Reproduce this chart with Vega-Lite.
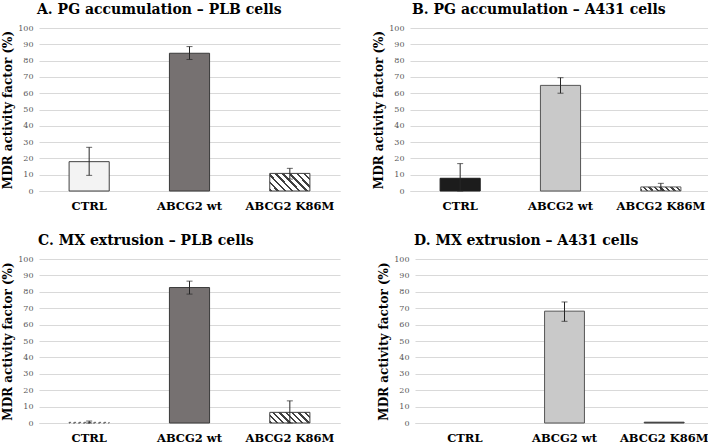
{
  "$schema": "https://vega.github.io/schema/vega-lite/v6.json",
  "padding": {"left": 1, "top": 3, "right": 0, "bottom": 0},
  "background": "white",
  "datasets": {
    "bars": [
      {"panel": "A", "group": "CTRL", "value": 18, "lo": 9.6, "hi": 26.8},
      {"panel": "A", "group": "ABCG2 wt", "value": 84.5, "lo": 80.7, "hi": 88.6},
      {"panel": "A", "group": "ABCG2 K86M", "value": 10.8, "lo": 7.3, "hi": 13.9},
      {"panel": "B", "group": "CTRL", "value": 7.8, "lo": 0, "hi": 16.8},
      {"panel": "B", "group": "ABCG2 wt", "value": 64.8, "lo": 60, "hi": 69.5},
      {"panel": "B", "group": "ABCG2 K86M", "value": 2.5, "lo": 0.4, "hi": 4.7},
      {"panel": "C", "group": "CTRL", "value": 0.4, "lo": 0, "hi": 1.2},
      {"panel": "C", "group": "ABCG2 wt", "value": 82.6, "lo": 78.6, "hi": 86.5},
      {"panel": "C", "group": "ABCG2 K86M", "value": 6.5, "lo": 0, "hi": 13.5},
      {"panel": "D", "group": "CTRL", "value": 0, "lo": null, "hi": null},
      {"panel": "D", "group": "ABCG2 wt", "value": 68.2, "lo": 62, "hi": 73.8},
      {"panel": "D", "group": "ABCG2 K86M", "value": 0.5, "lo": null, "hi": null}
    ]
  },
  "vconcat": [
    {
      "hconcat": [
        {
          "title": {"text": "A. PG accumulation – PLB cells", "dx": -2},
          "width": 301, "height": 163,
          "data": {"name": "bars"},
          "transform": [{"filter": "datum.panel === 'A'"}],
          "encoding": {
            "x": {"field": "group", "type": "nominal", "title": null,
              "scale": {"domain": ["CTRL", "ABCG2 wt", "ABCG2 K86M"], "paddingInner": 0.6, "paddingOuter": 0.3}}
          },
          "layer": [
            {"transform": [{"filter": "datum.group === 'CTRL'"}],
             "mark": {"type": "bar", "fill": "#f3f3f3", "stroke": "#404040", "strokeWidth": 1},
             "encoding": {"y": {"field": "value", "type": "quantitative", "title": "MDR activity factor (%)", "scale": {"domain": [0, 100], "nice": false}}}},
            {"transform": [{"filter": "datum.group === 'ABCG2 wt'"}],
             "mark": {"type": "bar", "fill": "#767171", "stroke": "#3a3a3a", "strokeWidth": 1},
             "encoding": {"y": {"field": "value", "type": "quantitative", "title": "MDR activity factor (%)"}}},
            {"transform": [{"filter": "datum.group === 'ABCG2 K86M'"}],
             "mark": {"type": "bar", "stroke": "#404040", "strokeWidth": 1,
               "fill": {"gradient": "linear", "x1": 0, "y1": 1, "x2": 1.207, "y2": 0.487,
                 "stops": [
                   {"offset": 0, "color": "#404040"}, {"offset": 0.044, "color": "#404040"}, {"offset": 0.044, "color": "#ffffff"}, {"offset": 0.125, "color": "#ffffff"},
                   {"offset": 0.125, "color": "#404040"}, {"offset": 0.169, "color": "#404040"}, {"offset": 0.169, "color": "#ffffff"}, {"offset": 0.25, "color": "#ffffff"},
                   {"offset": 0.25, "color": "#404040"}, {"offset": 0.294, "color": "#404040"}, {"offset": 0.294, "color": "#ffffff"}, {"offset": 0.375, "color": "#ffffff"},
                   {"offset": 0.375, "color": "#404040"}, {"offset": 0.419, "color": "#404040"}, {"offset": 0.419, "color": "#ffffff"}, {"offset": 0.5, "color": "#ffffff"},
                   {"offset": 0.5, "color": "#404040"}, {"offset": 0.544, "color": "#404040"}, {"offset": 0.544, "color": "#ffffff"}, {"offset": 0.625, "color": "#ffffff"},
                   {"offset": 0.625, "color": "#404040"}, {"offset": 0.669, "color": "#404040"}, {"offset": 0.669, "color": "#ffffff"}, {"offset": 0.75, "color": "#ffffff"},
                   {"offset": 0.75, "color": "#404040"}, {"offset": 0.794, "color": "#404040"}, {"offset": 0.794, "color": "#ffffff"}, {"offset": 0.875, "color": "#ffffff"},
                   {"offset": 0.875, "color": "#404040"}, {"offset": 0.919, "color": "#404040"}, {"offset": 0.919, "color": "#ffffff"}, {"offset": 1, "color": "#ffffff"}
                 ]}},
             "encoding": {"y": {"field": "value", "type": "quantitative", "title": "MDR activity factor (%)"}}},
            {"mark": {"type": "rule", "color": "#262626", "strokeWidth": 1},
             "encoding": {"y": {"field": "lo", "type": "quantitative", "title": "MDR activity factor (%)"}, "y2": {"field": "hi"}}},
            {"mark": {"type": "tick", "color": "#262626", "size": 6, "thickness": 1},
             "encoding": {"y": {"field": "lo", "type": "quantitative", "title": "MDR activity factor (%)"}}},
            {"mark": {"type": "tick", "color": "#262626", "size": 6, "thickness": 1},
             "encoding": {"y": {"field": "hi", "type": "quantitative", "title": "MDR activity factor (%)"}}}
          ]
        },
        {
          "title": {"text": "B.  PG accumulation – A431 cells", "dx": 2},
          "width": 301, "height": 163,
          "data": {"name": "bars"},
          "transform": [{"filter": "datum.panel === 'B'"}],
          "encoding": {
            "x": {"field": "group", "type": "nominal", "title": null,
              "scale": {"domain": ["CTRL", "ABCG2 wt", "ABCG2 K86M"], "paddingInner": 0.6, "paddingOuter": 0.3}}
          },
          "layer": [
            {"transform": [{"filter": "datum.group === 'CTRL'"}],
             "mark": {"type": "bar", "fill": "#1c1c1c", "stroke": "#1c1c1c", "strokeWidth": 1},
             "encoding": {"y": {"field": "value", "type": "quantitative", "title": "MDR activity factor (%)", "scale": {"domain": [0, 100], "nice": false}}}},
            {"transform": [{"filter": "datum.group === 'ABCG2 wt'"}],
             "mark": {"type": "bar", "fill": "#c9c9c9", "stroke": "#555555", "strokeWidth": 1},
             "encoding": {"y": {"field": "value", "type": "quantitative", "title": "MDR activity factor (%)"}}},
            {"transform": [{"filter": "datum.group === 'ABCG2 K86M'"}],
             "mark": {"type": "bar", "stroke": "#595959", "strokeWidth": 1,
               "fill": {"gradient": "linear", "x1": 0, "y1": 1, "x2": 1.087, "y2": 0.894,
                 "stops": [
                   {"offset": 0, "color": "#404040"}, {"offset": 0.05, "color": "#404040"}, {"offset": 0.05, "color": "#ffffff"}, {"offset": 0.125, "color": "#ffffff"},
                   {"offset": 0.125, "color": "#404040"}, {"offset": 0.175, "color": "#404040"}, {"offset": 0.175, "color": "#ffffff"}, {"offset": 0.25, "color": "#ffffff"},
                   {"offset": 0.25, "color": "#404040"}, {"offset": 0.3, "color": "#404040"}, {"offset": 0.3, "color": "#ffffff"}, {"offset": 0.375, "color": "#ffffff"},
                   {"offset": 0.375, "color": "#404040"}, {"offset": 0.425, "color": "#404040"}, {"offset": 0.425, "color": "#ffffff"}, {"offset": 0.5, "color": "#ffffff"},
                   {"offset": 0.5, "color": "#404040"}, {"offset": 0.55, "color": "#404040"}, {"offset": 0.55, "color": "#ffffff"}, {"offset": 0.625, "color": "#ffffff"},
                   {"offset": 0.625, "color": "#404040"}, {"offset": 0.675, "color": "#404040"}, {"offset": 0.675, "color": "#ffffff"}, {"offset": 0.75, "color": "#ffffff"},
                   {"offset": 0.75, "color": "#404040"}, {"offset": 0.8, "color": "#404040"}, {"offset": 0.8, "color": "#ffffff"}, {"offset": 0.875, "color": "#ffffff"},
                   {"offset": 0.875, "color": "#404040"}, {"offset": 0.925, "color": "#404040"}, {"offset": 0.925, "color": "#ffffff"}, {"offset": 1, "color": "#ffffff"}
                 ]}},
             "encoding": {"y": {"field": "value", "type": "quantitative", "title": "MDR activity factor (%)"}}},
            {"mark": {"type": "rule", "color": "#262626", "strokeWidth": 1},
             "encoding": {"y": {"field": "lo", "type": "quantitative", "title": "MDR activity factor (%)"}, "y2": {"field": "hi"}}},
            {"mark": {"type": "tick", "color": "#262626", "size": 6, "thickness": 1},
             "encoding": {"y": {"field": "lo", "type": "quantitative", "title": "MDR activity factor (%)"}}},
            {"mark": {"type": "tick", "color": "#262626", "size": 6, "thickness": 1},
             "encoding": {"y": {"field": "hi", "type": "quantitative", "title": "MDR activity factor (%)"}}}
          ]
        }
      ],
      "spacing": 32
    },
    {
      "hconcat": [
        {
          "title": {"text": "C.  MX extrusion – PLB cells", "dx": -1},
          "width": 301, "height": 164,
          "data": {"name": "bars"},
          "transform": [{"filter": "datum.panel === 'C'"}],
          "encoding": {
            "x": {"field": "group", "type": "nominal", "title": null,
              "scale": {"domain": ["CTRL", "ABCG2 wt", "ABCG2 K86M"], "paddingInner": 0.6, "paddingOuter": 0.3}}
          },
          "layer": [
            {"transform": [{"filter": "datum.group === 'CTRL'"}],
             "mark": {"type": "bar", "fill": "#ffffff", "stroke": "#595959", "strokeWidth": 1, "strokeDash": [2, 3]},
             "encoding": {"y": {"field": "value", "type": "quantitative", "title": "MDR activity factor (%)", "scale": {"domain": [0, 100], "nice": false}}}},
            {"transform": [{"filter": "datum.group === 'ABCG2 wt'"}],
             "mark": {"type": "bar", "fill": "#767171", "stroke": "#3a3a3a", "strokeWidth": 1},
             "encoding": {"y": {"field": "value", "type": "quantitative", "title": "MDR activity factor (%)"}}},
            {"transform": [{"filter": "datum.group === 'ABCG2 K86M'"}],
             "mark": {"type": "bar", "stroke": "#404040", "strokeWidth": 1,
               "fill": {"gradient": "linear", "x1": 0, "y1": 1, "x2": 1.183, "y2": 0.683,
                 "stops": [
                   {"offset": 0, "color": "#404040"}, {"offset": 0.047, "color": "#404040"}, {"offset": 0.047, "color": "#ffffff"}, {"offset": 0.125, "color": "#ffffff"},
                   {"offset": 0.125, "color": "#404040"}, {"offset": 0.172, "color": "#404040"}, {"offset": 0.172, "color": "#ffffff"}, {"offset": 0.25, "color": "#ffffff"},
                   {"offset": 0.25, "color": "#404040"}, {"offset": 0.297, "color": "#404040"}, {"offset": 0.297, "color": "#ffffff"}, {"offset": 0.375, "color": "#ffffff"},
                   {"offset": 0.375, "color": "#404040"}, {"offset": 0.422, "color": "#404040"}, {"offset": 0.422, "color": "#ffffff"}, {"offset": 0.5, "color": "#ffffff"},
                   {"offset": 0.5, "color": "#404040"}, {"offset": 0.547, "color": "#404040"}, {"offset": 0.547, "color": "#ffffff"}, {"offset": 0.625, "color": "#ffffff"},
                   {"offset": 0.625, "color": "#404040"}, {"offset": 0.672, "color": "#404040"}, {"offset": 0.672, "color": "#ffffff"}, {"offset": 0.75, "color": "#ffffff"},
                   {"offset": 0.75, "color": "#404040"}, {"offset": 0.797, "color": "#404040"}, {"offset": 0.797, "color": "#ffffff"}, {"offset": 0.875, "color": "#ffffff"},
                   {"offset": 0.875, "color": "#404040"}, {"offset": 0.922, "color": "#404040"}, {"offset": 0.922, "color": "#ffffff"}, {"offset": 1, "color": "#ffffff"}
                 ]}},
             "encoding": {"y": {"field": "value", "type": "quantitative", "title": "MDR activity factor (%)"}}},
            {"mark": {"type": "rule", "color": "#262626", "strokeWidth": 1},
             "encoding": {"y": {"field": "lo", "type": "quantitative", "title": "MDR activity factor (%)"}, "y2": {"field": "hi"}}},
            {"mark": {"type": "tick", "color": "#262626", "size": 6, "thickness": 1},
             "encoding": {"y": {"field": "lo", "type": "quantitative", "title": "MDR activity factor (%)"}}},
            {"mark": {"type": "tick", "color": "#262626", "size": 6, "thickness": 1},
             "encoding": {"y": {"field": "hi", "type": "quantitative", "title": "MDR activity factor (%)"}}}
          ]
        },
        {
          "title": {"text": "D. MX extrusion – A431 cells", "dx": -1},
          "width": 299, "height": 164,
          "data": {"name": "bars"},
          "transform": [{"filter": "datum.panel === 'D'"}],
          "encoding": {
            "x": {"field": "group", "type": "nominal", "title": null,
              "scale": {"domain": ["CTRL", "ABCG2 wt", "ABCG2 K86M"], "paddingInner": 0.6, "paddingOuter": 0.3}}
          },
          "layer": [
            {"transform": [{"filter": "datum.group === 'ABCG2 wt'"}],
             "mark": {"type": "bar", "fill": "#c9c9c9", "stroke": "#555555", "strokeWidth": 1},
             "encoding": {"y": {"field": "value", "type": "quantitative", "title": "MDR activity factor (%)", "scale": {"domain": [0, 100], "nice": false}}}},
            {"transform": [{"filter": "datum.group === 'ABCG2 K86M'"}],
             "mark": {"type": "bar", "fill": "#404040", "stroke": "#404040", "strokeWidth": 1},
             "encoding": {"y": {"field": "value", "type": "quantitative", "title": "MDR activity factor (%)"}}},
            {"mark": {"type": "rule", "color": "#262626", "strokeWidth": 1},
             "encoding": {"y": {"field": "lo", "type": "quantitative", "title": "MDR activity factor (%)"}, "y2": {"field": "hi"}}},
            {"mark": {"type": "tick", "color": "#262626", "size": 6, "thickness": 1},
             "encoding": {"y": {"field": "lo", "type": "quantitative", "title": "MDR activity factor (%)"}}},
            {"mark": {"type": "tick", "color": "#262626", "size": 6, "thickness": 1},
             "encoding": {"y": {"field": "hi", "type": "quantitative", "title": "MDR activity factor (%)"}}}
          ]
        }
      ],
      "spacing": 37
    }
  ],
  "spacing": 22,
  "config": {
    "font": "DejaVu Serif",
    "view": {"stroke": null},
    "title": {"fontSize": 14, "fontWeight": "bold", "color": "#000000", "anchor": "start", "frame": "group", "offset": 7},
    "axisY": {
      "grid": true, "gridColor": "#d9d9d9", "domain": false, "ticks": false,
      "tickCount": 10, "labelOverlap": false,
      "labelColor": "#595959", "labelFontSize": 8, "labelPadding": 6,
      "titleFontSize": 12, "titleFontWeight": "bold", "titleColor": "#000000", "titlePadding": 3
    },
    "axisX": {
      "domain": true, "domainColor": "#d9d9d9", "ticks": false, "grid": false,
      "labelAngle": 0, "labelFontSize": 11.5, "labelFontWeight": "bold", "labelColor": "#000000", "labelPadding": 9
    }
  }
}
